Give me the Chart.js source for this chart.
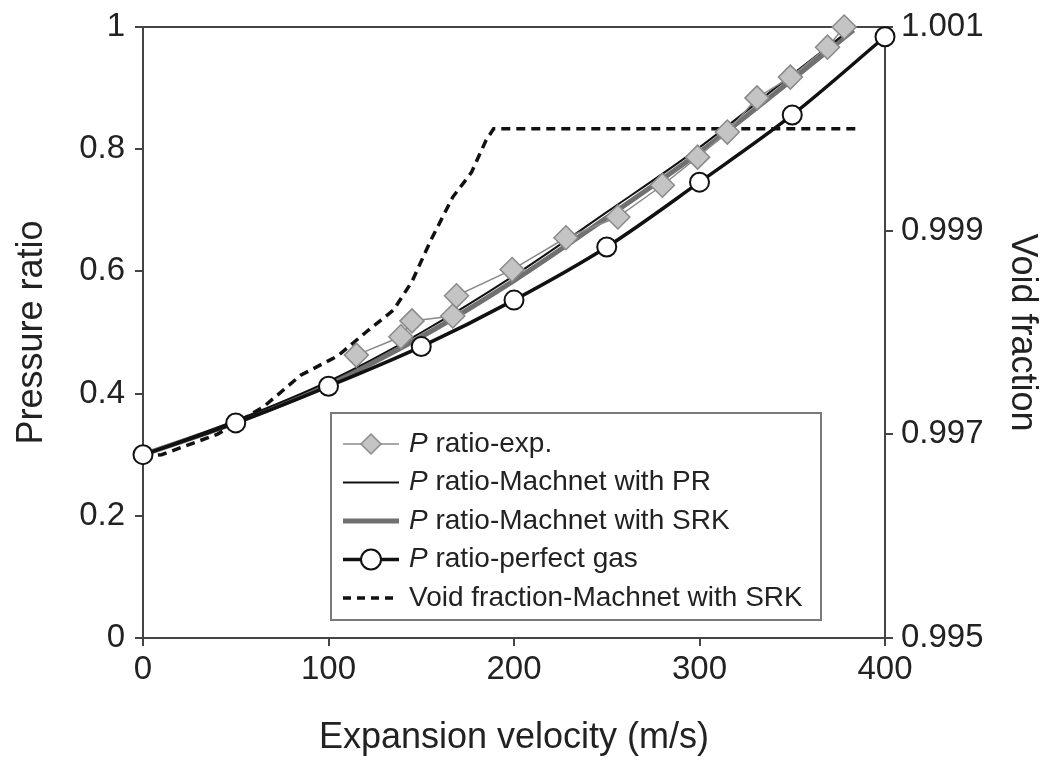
<!DOCTYPE html>
<html>
<head>
<meta charset="utf-8">
<script src="https://cdn.jsdelivr.net/npm/chart.js@4/dist/chart.umd.min.js"></script>
<style>
  html, body { margin: 0; padding: 0; background: #fff; }
  #wrap { width: 1056px; height: 760px; }
</style>
</head>
<body>
<div id="wrap"><canvas id="c" width="1056" height="760"></canvas></div>
<script>
// values
const xTicks = [0, 100, 200, 300, 400];
const leftTicks = [0, 0.2, 0.4, 0.6, 0.8, 1];
const rightTicks = [0.995, 0.997, 0.999, 1.001];

const velExp = [115, 139, 145, 167, 169, 199, 228, 256, 280, 299, 315, 331, 349, 369, 378];
const pExp = [0.463, 0.493, 0.519, 0.527, 0.560, 0.603, 0.655, 0.689, 0.741, 0.787, 0.828, 0.884, 0.918, 0.967, 1.0];

const velModel = [0, 50, 100, 150, 200, 250, 300, 350, 383];
const pPR = [0.300, 0.356, 0.420, 0.500, 0.593, 0.697, 0.803, 0.922, 1.0];
const pSRK = [0.300, 0.353, 0.415, 0.493, 0.585, 0.688, 0.795, 0.914, 0.995];

const velPerfect = [0, 50, 100, 150, 200, 250, 300, 350, 400];
const pPerfect = [0.300, 0.352, 0.412, 0.477, 0.553, 0.640, 0.746, 0.856, 0.984];

const velVoid = [0, 10, 40, 65, 85, 105, 120, 135, 145, 155, 167, 177, 185, 189, 385];
const voidFrac = [0.99678, 0.99680, 0.99700, 0.99727, 0.99758, 0.99777, 0.99800, 0.99822, 0.99850, 0.99890, 0.99933, 0.99957, 0.99989, 1.0, 1.0];

const legendLabels = [
  ['P', ' ratio-exp.'],
  ['P', ' ratio-Machnet with PR'],
  ['P', ' ratio-Machnet with SRK'],
  ['P', ' ratio-perfect gas'],
  ['', 'Void fraction-Machnet with SRK']
];

const FONT = "'Liberation Sans', Arial, Helvetica, sans-serif";
const TXT = '#222';

const pts = (xs, ys) => xs.map((x, i) => ({ x: x, y: ys[i] }));

const datasets = [
  {
    label: 'exp', data: pts(velExp, pExp), yAxisID: 'y', order: 0,
    borderColor: '#8a8a8a', borderWidth: 1.5,
    pointStyle: 'rectRot', pointRadius: 12, pointBackgroundColor: '#c4c4c4',
    pointBorderColor: '#8a8a8a', pointBorderWidth: 1.5
  },
  {
    label: 'PR', data: pts(velModel, pPR), yAxisID: 'y', order: 3,
    borderColor: '#111', borderWidth: 2, pointRadius: 0,
    cubicInterpolationMode: 'monotone'
  },
  {
    label: 'SRK', data: pts(velModel, pSRK), yAxisID: 'y', order: 4,
    borderColor: '#707070', borderWidth: 5, pointRadius: 0,
    cubicInterpolationMode: 'monotone'
  },
  {
    label: 'perfect', data: pts(velPerfect, pPerfect), yAxisID: 'y', order: 1,
    borderColor: '#111', borderWidth: 3.5,
    pointStyle: 'circle', pointRadius: 9.5, pointBackgroundColor: '#fff',
    pointBorderColor: '#111', pointBorderWidth: 2,
    cubicInterpolationMode: 'monotone'
  },
  {
    label: 'void', data: pts(velVoid, voidFrac), yAxisID: 'y2', order: 2,
    borderColor: '#111', borderWidth: 3.5, borderDash: [9, 6], pointRadius: 0,
    tension: 0
  }
];

// legend box drawn inside the plot, like the original figure
const boxLegend = {
  id: 'boxLegend',
  afterDatasetsDraw(chart) {
    const ctx = chart.ctx;
    const a = chart.chartArea;
    const bx = a.left + 188, by = a.top + 386, bw = 490, bh = 207;
    ctx.save();
    ctx.fillStyle = '#fff';
    ctx.fillRect(bx, by, bw, bh);
    ctx.strokeStyle = '#7a7a7a';
    ctx.lineWidth = 2;
    ctx.strokeRect(bx, by, bw, bh);
    const x0 = bx + 12, x1 = bx + 68, tx = bx + 78;
    legendLabels.forEach((lab, i) => {
      const y = by + 31 + i * 38.5;
      const ds = chart.data.datasets[i];
      ctx.save();
      ctx.strokeStyle = ds.borderColor;
      ctx.lineWidth = ds.borderWidth;
      if (ds.borderDash) ctx.setLineDash([8, 6]);
      ctx.beginPath();
      ctx.moveTo(x0, y);
      ctx.lineTo(x1, y);
      ctx.stroke();
      ctx.restore();
      if (ds.pointRadius > 0) {
        ctx.save();
        ctx.fillStyle = ds.pointBackgroundColor;
        ctx.strokeStyle = ds.pointBorderColor;
        ctx.lineWidth = ds.pointBorderWidth;
        Chart.helpers.drawPoint(ctx, { pointStyle: ds.pointStyle, radius: 10, borderWidth: ds.pointBorderWidth, rotation: 0 }, (x0 + x1) / 2, y);
        ctx.restore();
      }
      ctx.fillStyle = TXT;
      ctx.textBaseline = 'middle';
      let x = tx;
      if (lab[0]) {
        ctx.font = 'italic 28px ' + FONT;
        ctx.fillText(lab[0], x, y);
        x += ctx.measureText(lab[0]).width;
      }
      ctx.font = '28px ' + FONT;
      ctx.fillText(lab[1], x, y);
    });
    ctx.restore();
  }
};

// top frame line
const topFrame = {
  id: 'topFrame',
  beforeDatasetsDraw(chart) {
    const ctx = chart.ctx;
    const a = chart.chartArea;
    ctx.save();
    ctx.strokeStyle = '#444';
    ctx.lineWidth = 2;
    ctx.beginPath();
    ctx.moveTo(a.left, a.top);
    ctx.lineTo(a.right, a.top);
    ctx.stroke();
    ctx.restore();
  }
};

const tickFont = { family: FONT, size: 33 };
const titleFont = { family: FONT, size: 36 };
const gridOpts = { drawOnChartArea: false, tickLength: 8, color: '#444', lineWidth: 2 };
const borderOpts = { color: '#444', width: 2 };

const fitVertical = w => s => { s.width = w; s.paddingTop = 0; s.paddingBottom = 0; };

new Chart(document.getElementById('c'), {
  type: 'line',
  data: { datasets: datasets },
  options: {
    responsive: false,
    animation: false,
    clip: false,
    layout: { padding: { top: 27, left: 0, right: 0, bottom: 0 } },
    plugins: { legend: { display: false }, tooltip: { enabled: false } },
    scales: {
      x: {
        type: 'linear', min: 0, max: 400,
        afterBuildTicks: s => { s.ticks = xTicks.map(v => ({ value: v })); },
        afterFit: s => { s.height = 122; s.paddingLeft = 0; s.paddingRight = 0; },
        grid: gridOpts, border: borderOpts,
        ticks: { font: tickFont, color: TXT, padding: 4, maxRotation: 0 },
        title: { display: true, text: 'Expansion velocity (m/s)', color: TXT,
                 font: titleFont, padding: { top: 0, bottom: 0 } }
      },
      y: {
        type: 'linear', position: 'left', min: 0, max: 1,
        afterBuildTicks: s => { s.ticks = leftTicks.map(v => ({ value: v })); },
        afterFit: fitVertical(143),
        grid: gridOpts, border: borderOpts,
        ticks: { font: tickFont, color: TXT, padding: 10, callback: v => String(+v.toFixed(1)) },
        title: { display: true, text: 'Pressure ratio', color: TXT,
                 font: titleFont, padding: { top: 10, bottom: 0 } }
      },
      y2: {
        type: 'linear', position: 'right', min: 0.995, max: 1.001,
        afterBuildTicks: s => { s.ticks = rightTicks.map(v => ({ value: v })); },
        afterFit: fitVertical(171),
        grid: gridOpts, border: borderOpts,
        ticks: { font: tickFont, color: TXT, padding: 8, callback: v => v.toFixed(3) },
        title: { display: true, text: 'Void fraction', color: TXT,
                 font: titleFont, padding: { top: 12, bottom: 0 } }
      }
    }
  },
  plugins: [topFrame, boxLegend]
});
</script>
</body>
</html>
